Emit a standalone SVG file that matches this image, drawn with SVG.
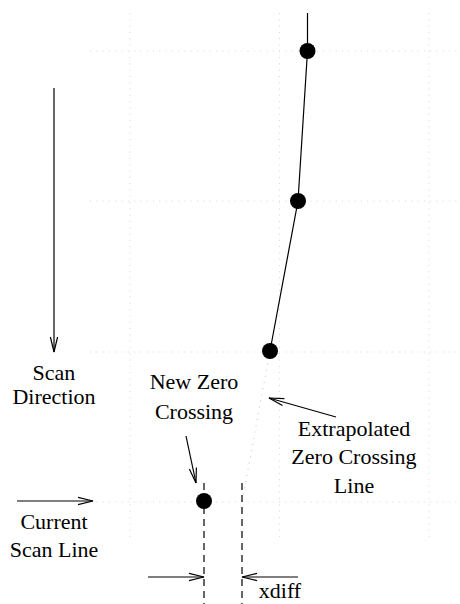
<svg xmlns="http://www.w3.org/2000/svg" width="460" height="604" viewBox="0 0 460 604">
  <style>
    .grid { stroke: #d6d6d6; stroke-width: 1; stroke-dasharray: 1 5.3; fill: none; }
    .ln { stroke: #000; stroke-width: 1.2; fill: none; }
    .arr { stroke: #000; stroke-width: 1.2; fill: none; marker-end: url(#open); }
    .dash { stroke: #000; stroke-width: 1.2; stroke-dasharray: 7 5; fill: none; }
    .pt { fill: #000; }
    text { font-family: "Liberation Serif", "Times New Roman", serif; font-size: 22px; fill: #000; text-anchor: middle; }
  </style>
  <defs>
    <marker id="open" markerUnits="userSpaceOnUse" markerWidth="20" markerHeight="12" viewBox="-16 -6 18 12" refX="0" refY="0" orient="auto" overflow="visible">
      <path d="M-15,-3.6 L0,0 L-15,3.6" stroke="#000" stroke-width="1.2" fill="none"/>
    </marker>
  </defs>

  <!-- background grid -->
  <g id="grid">
    <line class="grid" x1="90" y1="51" x2="460" y2="51"/>
    <line class="grid" x1="90" y1="201" x2="460" y2="201"/>
    <line class="grid" x1="90" y1="352" x2="460" y2="352"/>
    <line class="grid" x1="90" y1="502" x2="460" y2="502"/>
    <line class="grid" x1="130" y1="13" x2="130" y2="537"/>
    <line class="grid" x1="279.5" y1="13" x2="279.5" y2="537"/>
    <line class="grid" x1="429" y1="13" x2="429" y2="537"/>
  </g>

  <g id="connectors">
    <!-- zero crossing trace -->
    <polyline class="ln" points="307.5,13 307.5,51 298,201 270,351"/>
    <!-- extrapolation -->
    <line class="grid" x1="270" y1="351" x2="242" y2="502" style="stroke:#c4c4c4"/>
    <!-- scan direction -->
    <line class="arr" x1="54" y1="88" x2="54" y2="352"/>
    <!-- current scan line -->
    <line class="arr" x1="17" y1="501" x2="93" y2="501"/>
    <!-- label pointers -->
    <line class="arr" x1="186" y1="436" x2="196" y2="483"/>
    <line class="arr" x1="336" y1="417" x2="269" y2="398"/>
    <!-- xdiff measurement -->
    <line class="dash" x1="204" y1="483" x2="204" y2="604"/>
    <line class="dash" x1="242" y1="483" x2="242" y2="604"/>
    <line class="arr" x1="148" y1="577" x2="204" y2="577"/>
    <line class="arr" x1="298" y1="577" x2="242" y2="577"/>
  </g>

  <g id="point1"><circle class="pt" cx="307.5" cy="51" r="8"/></g>
  <g id="point2"><circle class="pt" cx="298" cy="201" r="8"/></g>
  <g id="point3"><circle class="pt" cx="270" cy="351" r="8"/></g>
  <g id="new-point"><circle class="pt" cx="204" cy="501" r="8"/></g>

  <g id="label-scan-direction">
    <text x="54" y="380">Scan</text>
    <text x="54" y="404">Direction</text>
  </g>
  <g id="label-new-zero">
    <text x="194" y="389">New Zero</text>
    <text x="194" y="419">Crossing</text>
  </g>
  <g id="label-extrapolated">
    <text x="354" y="436">Extrapolated</text>
    <text x="354" y="464">Zero Crossing</text>
    <text x="354" y="493">Line</text>
  </g>
  <g id="label-current">
    <text x="54" y="529">Current</text>
    <text x="54" y="557">Scan Line</text>
  </g>
  <g id="label-xdiff">
    <text x="280" y="598">xdiff</text>
  </g>
</svg>
